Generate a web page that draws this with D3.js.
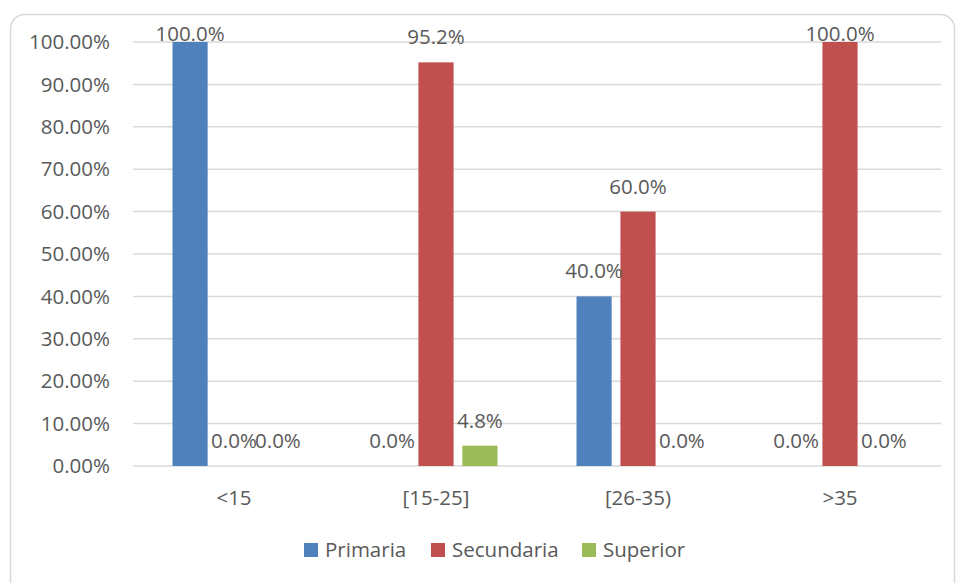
<!DOCTYPE html>
<html>
<head>
<meta charset="utf-8">
<script src="https://cdn.jsdelivr.net/npm/d3@7"></script>
<style>
  body { margin: 0; background: #fff; }
  text { font-family: "Open Sans", "Liberation Sans", sans-serif; fill: #595959; }
</style>
</head>
<body>
<div id="chart"></div>
<script>
// data
const categories = ["<15", "[15-25]", "[26-35)", ">35"];
const seriesNames = ["Primaria", "Secundaria", "Superior"];
const primaria = [100.0, 0.0, 40.0, 0.0];
const secundaria = [0.0, 95.2, 60.0, 100.0];
const superior = [0.0, 4.8, 0.0, 0.0];
const yTicks = [0, 10, 20, 30, 40, 50, 60, 70, 80, 90, 100];

const colors = { "Primaria": "#4F81BD", "Secundaria": "#C0504D", "Superior": "#9BBB59" };
const seriesValues = { "Primaria": primaria, "Secundaria": secundaria, "Superior": superior };

const width = 957, height = 583;
const margin = { top: 42, right: 16, bottom: 117, left: 133 };
const fontSize = "20.5px";

const svg = d3.select("#chart")
  .append("svg")
  .attr("width", width)
  .attr("height", height);

// chart frame
svg.append("rect")
  .attr("x", 10.5).attr("y", 14.5)
  .attr("width", 944).attr("height", 590)
  .attr("rx", 14)
  .attr("fill", "#fff")
  .attr("stroke", "#d9d9d9")
  .attr("stroke-width", 1.5);

const x0 = d3.scaleBand()
  .domain(categories)
  .range([margin.left, width - margin.right]);

const groupW = 123;
const x1 = d3.scaleBand()
  .domain(seriesNames)
  .range([(x0.bandwidth() - groupW) / 2, (x0.bandwidth() + groupW) / 2])
  .paddingInner(0.2);

const y = d3.scaleLinear()
  .domain([0, 100])
  .range([height - margin.bottom, margin.top]);

// gridlines
svg.append("g")
  .selectAll("line")
  .data(yTicks)
  .join("line")
  .attr("x1", margin.left)
  .attr("x2", width - margin.right)
  .attr("y1", d => y(d))
  .attr("y2", d => y(d))
  .attr("stroke", "#d9d9d9")
  .attr("stroke-width", 1.5);

// y labels
svg.append("g")
  .selectAll("text")
  .data(yTicks)
  .join("text")
  .attr("x", 110)
  .attr("y", d => y(d))
  .attr("dy", "0.35em")
  .attr("text-anchor", "end")
  .style("font-size", fontSize)
  .text(d => d.toFixed(2) + "%");

// x labels
svg.append("g")
  .selectAll("text")
  .data(categories)
  .join("text")
  .attr("x", d => x0(d) + x0.bandwidth() / 2)
  .attr("y", 505)
  .attr("text-anchor", "middle")
  .style("font-size", fontSize)
  .text(d => d);

// bars
const flat = [];
categories.forEach((c, i) => {
  seriesNames.forEach(s => flat.push({ cat: c, series: s, value: seriesValues[s][i] }));
});

svg.append("g")
  .selectAll("rect")
  .data(flat.filter(d => d.value > 0))
  .join("rect")
  .attr("x", d => x0(d.cat) + x1(d.series))
  .attr("y", d => y(d.value))
  .attr("width", x1.bandwidth())
  .attr("height", d => y(0) - y(d.value))
  .attr("fill", d => colors[d.series]);

// value labels
svg.append("g")
  .selectAll("text")
  .data(flat)
  .join("text")
  .attr("x", d => x0(d.cat) + x1(d.series) + x1.bandwidth() / 2)
  .attr("y", d => Math.max(y(d.value) - 18, y(100) - 1))
  .attr("text-anchor", "middle")
  .style("font-size", fontSize)
  .text(d => d.value.toFixed(1) + "%");

// legend
const legendX = [304, 431, 582];
const legend = svg.append("g")
  .selectAll("g")
  .data(seriesNames)
  .join("g")
  .attr("transform", (d, i) => `translate(${legendX[i]},543)`);

legend.append("rect")
  .attr("width", 14).attr("height", 14)
  .attr("fill", d => colors[d]);

legend.append("text")
  .attr("x", 21)
  .attr("y", 7)
  .attr("dy", "0.35em")
  .style("font-size", fontSize)
  .text(d => d);
</script>
</body>
</html>
